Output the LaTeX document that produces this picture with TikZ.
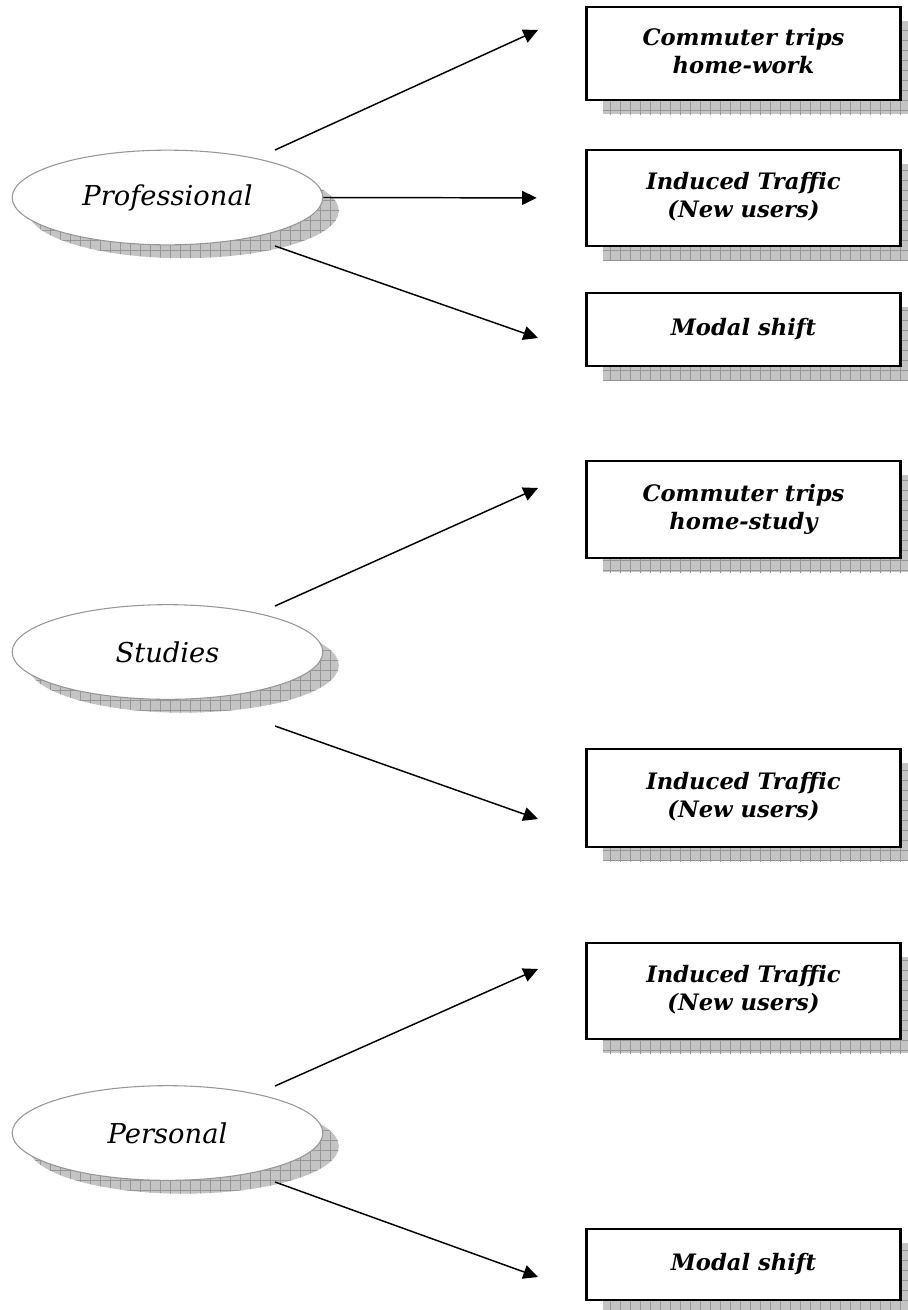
\documentclass[tikz,border=0pt]{standalone}
\usepackage{fontspec}
\setmainfont{DejaVu Serif}
\usetikzlibrary{shapes.geometric,arrows.meta,shadows,patterns.meta}

\definecolor{shadegray}{RGB}{196,196,196}
\definecolor{gridgray}{RGB}{150,150,150}
\definecolor{rimgray}{RGB}{150,150,150}

% box texts sit a little above the middle
\newcommand{\liftup}[2][4.5pt]{\raisebox{#1}{\begin{tabular}{@{}c@{}}#2\end{tabular}}}

\tikzset{
  gridshadow/.style 2 args={
    drop shadow={shadow xshift=#1, shadow yshift=#2, opacity=1, fill=shadegray},
    drop shadow={shadow xshift=#1, shadow yshift=#2, opacity=1,
      pattern={Hatch[angle=0,distance=7.5pt,line width=0.5pt]}, pattern color=gridgray}},
  outcome/.style={rectangle, draw, line width=2.2pt, fill=white, minimum width=236pt,
    inner sep=2pt, align=center, font=\fontsize{17}{21}\selectfont\bfseries\itshape,
    gridshadow={12.75pt}{-10.5pt}},
  motive/.style={ellipse, draw=rimgray, line width=0.8pt, fill=white, minimum width=233pt,
    minimum height=71pt, inner sep=0pt, font=\fontsize{20.5}{24}\selectfont\itshape,
    gridshadow={12pt}{-10pt}},
  flow/.style={-{Triangle[length=11pt,width=10.5pt]}, line width=1.1pt}
}

\begin{document}
\begin{tikzpicture}[x=0.75pt, y=-0.75pt]
      \useasboundingbox (0,0) rectangle (907,1310);

      % Nodes
      \node[motive] at (167.5, 197.5) (prof) {Professional};
      \node[motive] at (167.5, 652) (stud) {Studies};
      \node[motive] at (167.5, 1133) (pers) {Personal};

      \node[outcome, minimum height=69.75pt] at (743.5, 53.5) (commwork) {\liftup{Commuter trips\\home-work}};
      \node[outcome, minimum height=72pt] at (743.5, 198) (indprof) {\liftup{Induced Traffic\\(New users)}};
      \node[outcome, minimum height=54.75pt] at (743.5, 329.5) (modprof) {\liftup[2pt]{Modal shift}};
      \node[outcome, minimum height=72.75pt] at (743.5, 509.5) (commstud) {\liftup{Commuter trips\\home-study}};
      \node[outcome, minimum height=73.5pt] at (743.5, 798) (indstud) {\liftup[7pt]{Induced Traffic\\(New users)}};
      \node[outcome, minimum height=72pt] at (743.5, 991) (indpers) {\liftup{Induced Traffic\\(New users)}};
      \node[outcome, minimum height=53.25pt] at (743.5, 1264.5) (modpers) {\liftup[2pt]{Modal shift}};

      % Arrow ends
      \coordinate (prof-up) at (275, 150);
      \coordinate (prof-down) at (275, 246);
      \coordinate (stud-up) at (275, 606);
      \coordinate (stud-down) at (275, 726);
      \coordinate (pers-up) at (275, 1086);
      \coordinate (pers-down) at (275, 1182);
      \coordinate (commwork-in) at (538, 30);
      \coordinate (modprof-in) at (538, 338);
      \coordinate (commstud-in) at (538, 488);
      \coordinate (indstud-in) at (538, 819);
      \coordinate (indpers-in) at (538, 969);
      \coordinate (modpers-in) at (538, 1277);

      \draw[flow] (prof-up) -- (commwork-in);
      \draw[flow, shorten >=36pt] (prof.east) -- (indprof.west);
      \draw[flow] (prof-down) -- (modprof-in);

      \draw[flow] (stud-up) -- (commstud-in);
      \draw[flow] (stud-down) -- (indstud-in);

      \draw[flow] (pers-up) -- (indpers-in);
      \draw[flow] (pers-down) -- (modpers-in);
    \end{tikzpicture}
\end{document}
